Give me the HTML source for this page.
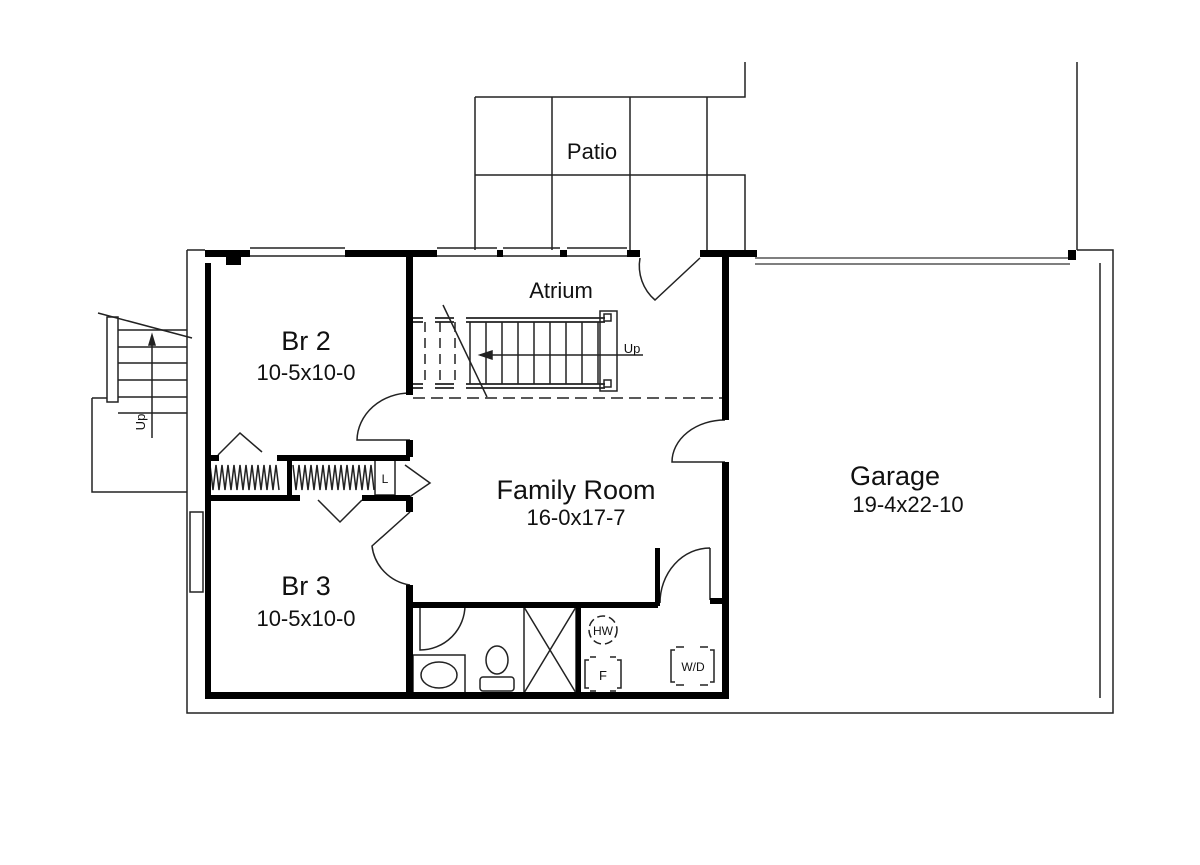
<!DOCTYPE html>
<html><head><meta charset="utf-8"><style>
html,body{margin:0;padding:0;background:#fff}
svg{display:block}
text{font-family:"Liberation Sans",sans-serif;fill:#111;text-anchor:middle}
</style></head><body>
<svg width="1200" height="865" viewBox="0 0 1200 865" xmlns="http://www.w3.org/2000/svg">
<g stroke="#222" stroke-width="1.5" fill="none">
<path d="M475 97 H745 V62 M475 97 V250 M552 97 V250 M630 97 V250 M707 97 V250 M475 175 H745 V250"/>
<path d="M1077 62 V250"/>
<path d="M187 250 V713 H1113 V250 H1077"/>
<path d="M1100 263 V698"/>
<path d="M187 250 H205"/>
<path d="M755 258 H1070 M755 264 H1070" stroke="#555"/>
<path d="M92 398 V492 H187 M92 398 H107"/>
<rect x="107" y="317" width="11" height="85"/>
<path d="M118 330 H187 M118 347 H187 M118 363 H187 M118 380 H187 M118 397 H187 M118 413 H187"/>
<path d="M98 313 L192 338"/>
<path d="M152 438 V338"/>
<path d="M152 335 l-3 10 h6 z" fill="#222"/>
<rect x="190" y="512" width="13" height="80"/>
<path d="M250 248 H345 M250 256 H345 M437 248 H497 M437 256 H497 M503 248 H560 M503 256 H560 M567 248 H627 M567 256 H627"/>
<!-- atrium stair -->
<path d="M413 318 H423 M435 318 H454 M466 318 H605 M413 322 H423 M435 322 H454 M466 322 H605 M413 384 H423 M435 384 H454 M466 384 H605 M413 388 H423 M435 388 H454 M466 388 H605" stroke-width="1.8"/>
<path d="M425 322 V384 M440 322 V384 M455 322 V384" stroke-dasharray="10 6"/>
<path d="M470 322 V384 M486 322 V384 M502 322 V384 M518 322 V384 M534 322 V384 M550 322 V384 M566 322 V384 M582 322 V384 M598 322 V384"/>
<rect x="600" y="311" width="17" height="80"/>
<rect x="604" y="314" width="7" height="7"/><rect x="604" y="380" width="7" height="7"/>
<path d="M480 355 H643"/>
<path d="M480 355 l12 -4 v8 z" fill="#222"/>
<path d="M443 305 L487 397"/>
<path d="M413 398 H722" stroke-dasharray="12 6"/>
<path d="M410 440 H357 A53 48 0 0 1 410 393"/>
<path d="M725 462 H672 A53 42 0 0 1 725 420"/>
<path d="M410 512 L372 546 A45 45 0 0 0 410 585"/>
<path d="M700 258 L655 300 A45 45 0 0 1 640 258"/>
<path d="M420 605 V650 A45 45 0 0 0 465 605"/>
<path d="M710 548 V600 M710 548 A50 55 0 0 0 660 603"/>
<path d="M218 455 L240 433 L262 452 M318 500 L340 522 L362 500"/>
<path d="M405 465 L430 483 L405 500"/>
<path d="M210 465 l3 25 l3 -25 l3 25 l3 -25 l3 25 l3 -25 l3 25 l3 -25 l3 25 l3 -25 l3 25 l3 -25 l3 25 l3 -25 l3 25 l3 -25 l3 25 l3 -25 l3 25 l3 -25 l3 25 l3 -25 l3 25"/>
<path d="M293 465 l3 25 l3 -25 l3 25 l3 -25 l3 25 l3 -25 l3 25 l3 -25 l3 25 l3 -25 l3 25 l3 -25 l3 25 l3 -25 l3 25 l3 -25 l3 25 l3 -25 l3 25 l3 -25 l3 25 l3 -25 l3 25 l3 -25 l3 25 l3 -25 l3 25"/>
<rect x="375" y="460" width="20" height="35"/>
<rect x="413" y="655" width="52" height="38"/>
<ellipse cx="439" cy="675" rx="18" ry="13"/>
<ellipse cx="497" cy="660" rx="11" ry="14"/>
<rect x="480" y="677" width="34" height="14" rx="3"/>
<rect x="524" y="607" width="52" height="86"/>
<path d="M524 607 L576 693 M576 607 L524 693"/>
<circle cx="603" cy="630" r="14" stroke-dasharray="8 4"/>
<path d="M589 660 h-4 v28 h4 M617 660 h4 v28 h-4 M590 657 h6 M610 657 h6 M590 691 h6 M610 691 h6"/>
<path d="M675 650 h-4 v32 h4 M710 650 h4 v32 h-4 M676 647 h8 M700 647 h8 M676 685 h8 M700 685 h8"/>
</g>
<g fill="#000">
<rect x="205" y="263" width="6" height="435"/>
<rect x="205" y="250" width="45" height="7"/>
<rect x="226" y="257" width="15" height="8"/>
<rect x="345" y="250" width="92" height="7"/>
<rect x="497" y="250" width="6" height="7"/>
<rect x="560" y="250" width="7" height="7"/>
<rect x="627" y="250" width="13" height="7"/>
<rect x="700" y="250" width="57" height="7"/>
<rect x="1068" y="250" width="8" height="10"/>
<rect x="406" y="257" width="7" height="138"/>
<rect x="406" y="440" width="7" height="17"/>
<rect x="406" y="497" width="7" height="15"/>
<rect x="406" y="585" width="7" height="113"/>
<rect x="722" y="257" width="7" height="163"/>
<rect x="722" y="462" width="7" height="236"/>
<rect x="205" y="455" width="14" height="6"/>
<rect x="277" y="455" width="133" height="6"/>
<rect x="205" y="495" width="95" height="6"/>
<rect x="362" y="495" width="48" height="6"/>
<rect x="287" y="455" width="5" height="45"/>
<rect x="406" y="602" width="252" height="6"/>
<rect x="655" y="548" width="5" height="58"/>
<rect x="710" y="598" width="19" height="6"/>
<rect x="576" y="602" width="5" height="96"/>
<rect x="205" y="692" width="524" height="7"/>
</g>
<text x="592" y="159" font-size="22">Patio</text>
<text x="561" y="298" font-size="22">Atrium</text>
<text x="632" y="353" font-size="13">Up</text>
<text x="145" y="422" font-size="13" transform="rotate(-90 145 422)">Up</text>
<text x="306" y="350" font-size="27">Br 2</text>
<text x="306" y="380" font-size="22">10-5x10-0</text>
<text x="576" y="499" font-size="27">Family Room</text>
<text x="576" y="525" font-size="22">16-0x17-7</text>
<text x="895" y="485" font-size="27">Garage</text>
<text x="908" y="512" font-size="22">19-4x22-10</text>
<text x="306" y="595" font-size="27">Br 3</text>
<text x="306" y="626" font-size="22">10-5x10-0</text>
<text x="385" y="483" font-size="12">L</text>
<text x="603" y="635" font-size="12">HW</text>
<text x="603" y="680" font-size="13">F</text>
<text x="693" y="671" font-size="12">W/D</text>
</svg>
</body></html>
